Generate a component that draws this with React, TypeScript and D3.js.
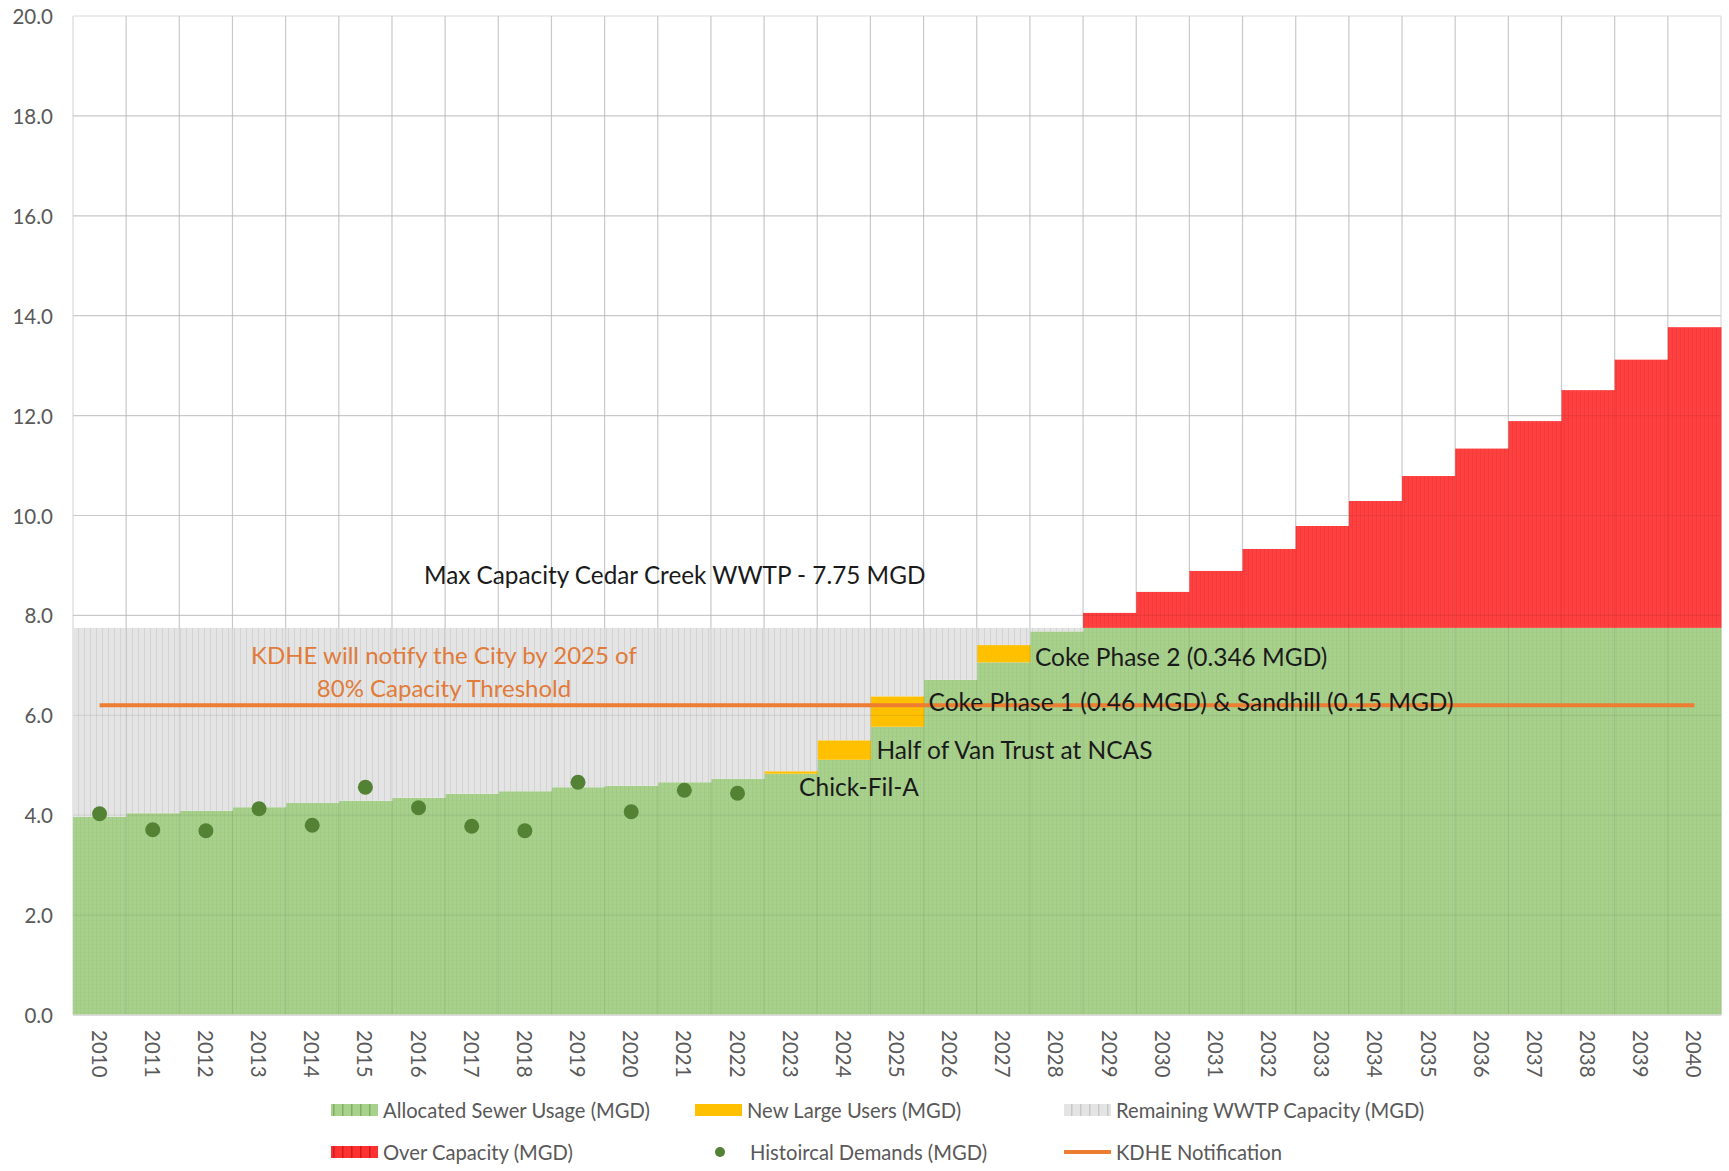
import * as d3 from 'd3';

const years = ['2010', '2011', '2012', '2013', '2014', '2015', '2016', '2017', '2018', '2019', '2020',
  '2021', '2022', '2023', '2024', '2025', '2026', '2027', '2028', '2029', '2030',
  '2031', '2032', '2033', '2034', '2035', '2036', '2037', '2038', '2039', '2040'];

// MGD
const allocated = [3.97, 4.04, 4.09, 4.16, 4.25, 4.29, 4.35, 4.43, 4.48, 4.56, 4.59,
  4.66, 4.73, 4.83, 5.11, 5.77, 6.71, 7.06, 7.68, 7.75, 7.75,
  7.75, 7.75, 7.75, 7.75, 7.75, 7.75, 7.75, 7.75, 7.75, 7.75];
const newUsers = [0, 0, 0, 0, 0, 0, 0, 0, 0, 0, 0,
  0, 0, 0.05, 0.39, 0.61, 0, 0.346, 0, 0, 0,
  0, 0, 0, 0, 0, 0, 0, 0, 0, 0];
const remaining = [3.78, 3.71, 3.66, 3.59, 3.5, 3.46, 3.4, 3.32, 3.27, 3.19, 3.16,
  3.09, 3.02, 2.87, 2.25, 1.37, 1.04, 0.344, 0.07, 0, 0,
  0, 0, 0, 0, 0, 0, 0, 0, 0, 0];
const overCapacity = [0, 0, 0, 0, 0, 0, 0, 0, 0, 0, 0,
  0, 0, 0, 0, 0, 0, 0, 0, 0.3, 0.72,
  1.14, 1.58, 2.04, 2.54, 3.04, 3.59, 4.14, 4.76, 5.37, 6.02];

const histYears = ['2010', '2011', '2012', '2013', '2014', '2015', '2016', '2017', '2018', '2019', '2020', '2021', '2022'];
const historical = [4.03, 3.71, 3.69, 4.13, 3.8, 4.56, 4.15, 3.78, 3.69, 4.66, 4.07, 4.5, 4.44];

const kdheValue = 6.2;
const yTicks = [0, 2, 4, 6, 8, 10, 12, 14, 16, 18, 20];

const seriesKeys = ['allocated', 'newUsers', 'remaining', 'overCapacity'];
const fills: Record<string, string> = {
  allocated: 'url(#pGreen)',
  newUsers: '#ffc000',
  remaining: 'url(#pGray)',
  overCapacity: 'url(#pRed)',
};

const FONT = 'Lato, "Open Sans", sans-serif';

export default function App() {
  const W = 1729;
  const H = 1171;
  const x = d3.scaleBand().domain(years).range([73, 1721]).padding(0);
  const y = d3.scaleLinear().domain([0, 20]).range([1015, 16]);
  const bw = x.bandwidth();

  const table = years.map((yr, i) => ({
    year: yr,
    allocated: allocated[i],
    newUsers: newUsers[i],
    remaining: remaining[i],
    overCapacity: overCapacity[i],
  }));
  const stacked = d3.stack<any>().keys(seriesKeys)(table);

  const kdheLine = d3.line<string>()
    .x(d => x(d)! + bw / 2)
    .y(() => y(kdheValue));

  const fmt = d3.format('.1f');
  const left = (yr: string) => x(yr)!;

  const notes = [
    { text: 'Coke Phase 2 (0.346 MGD)', x: left('2028') + 5, v: 7.17 },
    { text: 'Coke Phase 1 (0.46 MGD) & Sandhill (0.15 MGD)', x: left('2026') + 5, v: 6.27 },
    { text: 'Half of Van Trust at NCAS', x: left('2025') + 6, v: 5.31 },
    { text: 'Chick-Fil-A', x: left('2023') + 35, v: 4.57 },
  ];

  const legendItems = [
    { label: 'Allocated Sewer Usage (MGD)', kind: 'rect', fill: 'url(#pGreenL)', x: 331, row: 0 },
    { label: 'New Large Users (MGD)', kind: 'rect', fill: '#ffc000', x: 695, row: 0 },
    { label: 'Remaining WWTP Capacity (MGD)', kind: 'rect', fill: 'url(#pGrayL)', x: 1064, row: 0 },
    { label: 'Over Capacity (MGD)', kind: 'rect', fill: 'url(#pRedL)', x: 331, row: 1 },
    { label: 'Histoircal Demands (MGD)', kind: 'dot', fill: '#548235', x: 695, row: 1 },
    { label: 'KDHE Notification', kind: 'line', fill: '#ed7d31', x: 1064, row: 1 },
  ];
  const rowY = [1110, 1152];

  return (
    <svg width={W} height={H} style={{ position: 'absolute', left: 0, top: 0, background: '#fff' }}
      fontFamily={FONT}>
      <defs>
        <pattern id="pGreen" width="4" height="4" patternUnits="userSpaceOnUse">
          <rect width="4" height="4" fill="#a9d18e" />
          <rect width="1" height="4" fill="#a0ca84" />
          <rect width="4" height="1" fill="#a4cd88" />
        </pattern>
        <pattern id="pGray" width="6" height="6" patternUnits="userSpaceOnUse">
          <rect width="6" height="6" fill="#e4e4e4" />
          <rect width="1" height="6" fill="#d3d3d3" />
        </pattern>
        <pattern id="pRed" width="4" height="4" patternUnits="userSpaceOnUse">
          <rect width="4" height="4" fill="#ff4040" />
          <rect width="1" height="4" fill="#f53a3a" />
        </pattern>
        <pattern id="pGreenL" width="9" height="12" patternUnits="userSpaceOnUse">
          <rect width="9" height="12" fill="#a9d18e" />
          <rect width="1.5" height="12" fill="#7fb060" />
        </pattern>
        <pattern id="pGrayL" width="9" height="12" patternUnits="userSpaceOnUse">
          <rect width="9" height="12" fill="#e4e4e4" />
          <rect width="1.5" height="12" fill="#c8c8c8" />
        </pattern>
        <pattern id="pRedL" width="9" height="12" patternUnits="userSpaceOnUse">
          <rect width="9" height="12" fill="#ff3030" />
          <rect width="1.5" height="12" fill="#c81e1e" />
        </pattern>
      </defs>

      {/* grid under the bars */}
      <g stroke="#d9d9d9" strokeWidth={1.2}>
        {yTicks.map(t => (
          <line key={'h' + t} x1={73} x2={1721} y1={y(t)} y2={y(t)} />
        ))}
        {years.map(yr => (
          <line key={'v' + yr} x1={x(yr)} x2={x(yr)} y1={y(20)} y2={y(0)} />
        ))}
        <line x1={1721} x2={1721} y1={y(20)} y2={y(0)} />
      </g>

      {stacked.map(s => (
        <g key={s.key} fill={fills[s.key]}>
          {s.map((d, i) => (d[1] - d[0] > 0 ? (
            <rect key={i} x={x(years[i])} width={bw + 0.5} y={y(d[1])} height={y(d[0]) - y(d[1])} />
          ) : null))}
        </g>
      ))}

      {/* grid showing through the fills */}
      <g stroke="#000" strokeOpacity={0.07} strokeWidth={1.2}>
        {yTicks.filter(t => t > 0 && t < 20).map(t => (
          <line key={'h2' + t} x1={73} x2={1721} y1={y(t)} y2={y(t)} />
        ))}
        {years.slice(1).map(yr => (
          <line key={'v2' + yr} x1={x(yr)} x2={x(yr)} y1={y(20)} y2={y(0)} />
        ))}
      </g>
      <line x1={73} x2={1721} y1={y(0)} y2={y(0)} stroke="#d9d9d9" strokeWidth={1.5} />

      <path d={kdheLine(years) || ''} fill="none" stroke="#ed7d31" strokeWidth={4} />

      <g fill="#548235">
        {histYears.map((yr, i) => (
          <circle key={yr} cx={x(yr)! + bw / 2} cy={y(historical[i])} r={7.5} />
        ))}
      </g>

      {/* axes */}
      <g fill="#595959" fontSize={20.5}>
        {yTicks.map(t => (
          <text key={t} x={53} y={y(t)} textAnchor="end" dominantBaseline="central">{fmt(t)}</text>
        ))}
        {years.map(yr => (
          <text key={yr} transform={`translate(${x(yr)! + bw / 2},${1030}) rotate(90)`}
            dominantBaseline="central">{yr}</text>
        ))}
      </g>

      {/* annotations */}
      <text x={left('2016') + 32} y={y(8.81)} fontSize={24.3} fill="#1a1a1a" dominantBaseline="central">
        Max Capacity Cedar Creek WWTP - 7.75 MGD
      </text>
      <g fill="#e07b39" fontSize={24} textAnchor="middle">
        <text x={444} y={y(7.21)} dominantBaseline="central">KDHE will notify the City by 2025 of</text>
        <text x={444} y={y(6.55)} dominantBaseline="central">80% Capacity Threshold</text>
      </g>
      <g fill="#1a1a1a" fontSize={24.5}>
        {notes.map(n => (
          <text key={n.text} x={n.x} y={y(n.v)} dominantBaseline="central">{n.text}</text>
        ))}
      </g>

      {/* legend */}
      <g fontSize={20.2} fill="#595959">
        {legendItems.map(it => {
          const cy = rowY[it.row];
          return (
            <g key={it.label}>
              {it.kind === 'rect' && <rect x={it.x} y={cy - 6} width={47} height={12} fill={it.fill} />}
              {it.kind === 'dot' && <circle cx={it.x + 25} cy={cy} r={5} fill={it.fill} />}
              {it.kind === 'line' && <line x1={it.x} x2={it.x + 47} y1={cy} y2={cy} stroke={it.fill} strokeWidth={4} />}
              <text x={it.x + (it.kind === 'dot' ? 55 : 52)} y={cy} dominantBaseline="central">{it.label}</text>
            </g>
          );
        })}
      </g>
    </svg>
  );
}
